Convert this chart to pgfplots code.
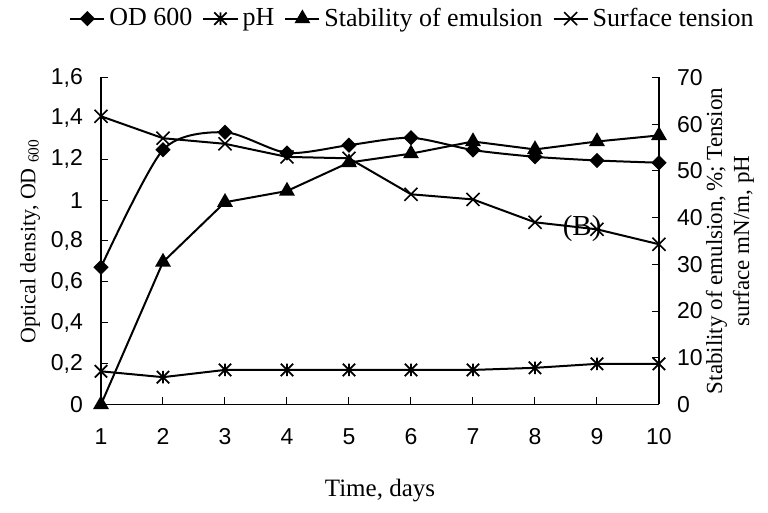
\documentclass[border=0pt]{standalone}
\usepackage{fontspec}
\setmainfont{Liberation Serif}
\newfontfamily\arial{Liberation Sans}
\usepackage{pgfplots}
\pgfplotsset{compat=1.18}
\pgfdeclareplotmark{xstar}{%
  \pgfpathmoveto{\pgfqpoint{0pt}{\pgfplotmarksize}}%
  \pgfpathlineto{\pgfqpoint{0pt}{-\pgfplotmarksize}}%
  \pgfpathmoveto{\pgfqpoint{-\pgfplotmarksize}{-\pgfplotmarksize}}%
  \pgfpathlineto{\pgfqpoint{\pgfplotmarksize}{\pgfplotmarksize}}%
  \pgfpathmoveto{\pgfqpoint{-\pgfplotmarksize}{\pgfplotmarksize}}%
  \pgfpathlineto{\pgfqpoint{\pgfplotmarksize}{-\pgfplotmarksize}}%
  \pgfusepathqstroke}
\pgfplotsset{
  odstyle/.style={black, line width=1pt, smooth, tension=0.45, mark=square*, mark size=2.2pt, mark options={rotate=45, solid, fill=black}},
  phstyle/.style={black, line width=1pt, mark=xstar, mark size=3.1pt, mark options={solid, line width=0.9pt}},
  ststyle/.style={black, line width=1pt, mark=triangle*, mark size=3.6pt, mark options={solid, fill=black}},
  tsstyle/.style={black, line width=1pt, mark=x, mark size=4.6pt, mark options={solid, line width=0.8pt}},
  common/.style={
    scale only axis, width=279pt, height=163.5pt,
    at={(0,0)}, anchor=south west,
    xmin=1, xmax=10, clip=false,
    tick style={black, line width=0.5pt}, major tick length=3.5pt,
    axis line style={line width=0.6pt},
    tick label style={font=\arial\fontsize{11.5}{13}\selectfont},
    /pgf/number format/assume math mode=true,
    /pgf/number format/.cd, use comma, 1000 sep={},
  },
}
\begin{document}
\begin{tikzpicture}
\begin{axis}[common,
  axis y line*=left, axis x line*=bottom,
  ymin=0, ymax=1.6,
  xtick={1,2,3,4,5,6,7,8,9,10},
  ytick={0,0.2,0.4,0.6,0.8,1,1.2,1.4,1.6},
  xticklabel style={yshift=-8.5pt},
  yticklabel style={xshift=-5.5pt},
  xlabel={Time, days},
  xlabel style={font=\fontsize{12.5}{14}\selectfont, at={(axis description cs:0.5,-0.263)}, anchor=center},
  ylabel={Optical density, OD \textsubscript{600}},
  ylabel style={font=\fontsize{11}{13}\selectfont, at={(axis description cs:-0.127,0.5)}, anchor=center, rotate=0},
]
\addplot[odstyle] coordinates {(1,0.672) (2,1.246) (3,1.332) (4,1.231) (5,1.269) (6,1.305) (7,1.245) (8,1.212) (9,1.194) (10,1.183)};
\end{axis}
\begin{axis}[common,
  axis y line*=right, axis x line=none,
  ymin=0, ymax=70,
  ytick={0,10,20,30,40,50,60,70},
  yticklabel style={xshift=5.5pt},
  ylabel={Stability of emulsion,\,\%; Tension\\surface mN/m, pH},
  ylabel style={font=\fontsize{11.5}{13.5}\selectfont, align=center, at={(axis description cs:1.127,0.5)}, anchor=center, rotate=0},
  legend style={draw=none, fill=none, at={(axis description cs:0.56,1.18)}, anchor=center,
    font=\fontsize{13}{15}\selectfont, legend columns=-1,
    /tikz/every even column/.append style={column sep=3pt}},
  legend cell align=left,
]
\addlegendimage{odstyle, sharp plot}
\addlegendentry{OD 600}
\addplot[phstyle] coordinates {(1,7.1) (2,5.85) (3,7.4) (4,7.4) (5,7.4) (6,7.4) (7,7.4) (8,7.85) (9,8.7) (10,8.7)};
\addlegendentry{pH}
\addplot[ststyle] coordinates {(1,0) (2,30.5) (3,43.3) (4,45.7) (5,51.8) (6,53.7) (7,56.3) (8,54.6) (9,56.3) (10,57.6)};
\addlegendentry{Stability of emulsion}
\addplot[tsstyle] coordinates {(1,61.7) (2,57) (3,55.8) (4,53) (5,52.7) (6,45) (7,43.9) (8,39) (9,37.5) (10,34.3)};
\addlegendentry{Surface tension}
\node[font=\fontsize{14.5}{16}\selectfont, inner sep=0pt] at (axis cs:8.76,37.7) {(B)};
\end{axis}
\path[use as bounding box] (-50.5pt,-54pt) rectangle (333.5pt,202pt);
\end{tikzpicture}
\end{document}
